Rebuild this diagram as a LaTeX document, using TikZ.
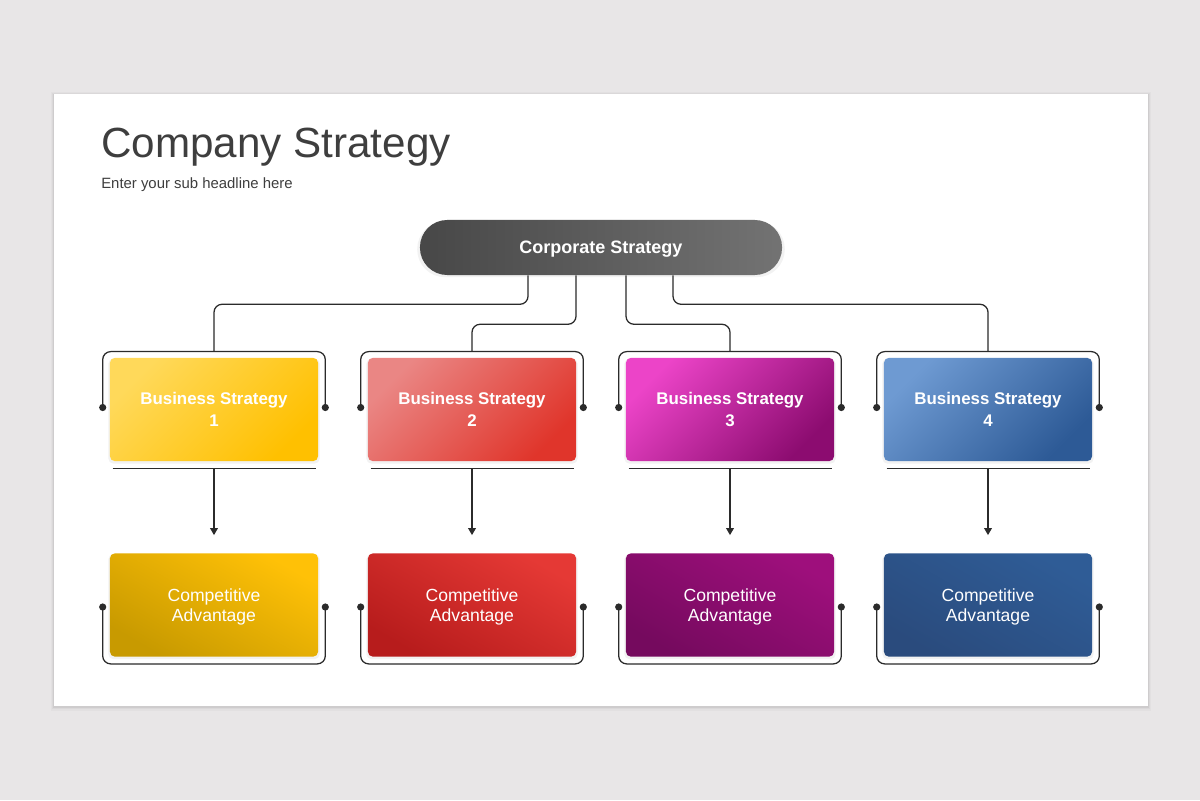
\documentclass[tikz,border=0pt]{standalone}
\usepackage{fontspec}
\setmainfont{Liberation Sans}
\usepackage{tikz}
\usetikzlibrary{arrows.meta,calc,shadows}

\definecolor{pagegray}{HTML}{E8E6E7}
\definecolor{titlegray}{HTML}{3E3E3E}
\definecolor{wiregray}{HTML}{2B2B2B}

\begin{document}
\begin{tikzpicture}[x=0.025cm,y=-0.025cm]
	\tikzstyle{wire}=[draw=wiregray,line width=0.9pt,rounded corners=0.2cm]
	\tikzstyle{dot}=[fill=wiregray]
	\tikzstyle{soft}=[drop shadow={opacity=0.10,shadow xshift=0pt,shadow yshift=-1.2pt,shadow scale=1.015}]
	\tikzstyle{box}=[rectangle,soft,rounded corners=0.12cm,minimum width=5.2cm,minimum height=2.58cm,text=white,align=center,font=\fontsize{12}{15.5}\selectfont]
	\tikzstyle{lowbox}=[box,text depth=0pt,font=\fontsize{12.5}{14.5}\selectfont]
	% page and card
	\fill[pagegray] (0,0) rectangle (1200,800);
	\fill[black,opacity=0.025] (51,92) rectangle (1151,711);
	\fill[black,opacity=0.035] (52,93) rectangle (1150,709);
	\fill[black,opacity=0.05] (53,94) rectangle (1149,707.5);
	\fill[white] (54,94) rectangle (1148,706);
	\node[anchor=base west,inner sep=0pt,text=titlegray,font=\fontsize{30}{36}\selectfont] (title) at (101,158) {Company Strategy};
	\node[anchor=base west,inner sep=0pt,text=titlegray,font=\fontsize{10.6}{13}\selectfont] (sub) at (101,189) {Enter your sub headline here};
	% corporate level
	\node[rectangle,soft,rounded corners=0.68cm,minimum width=9.05cm,minimum height=1.375cm,left color=black!72,right color=black!55,text=white,text depth=0pt,font=\bfseries\fontsize{12.8}{15}\selectfont] (corp) at (601,247.5) {Corporate Strategy};
	% business level
	\node[box,top color={rgb,255:red,255;green,217;blue,90},bottom color={rgb,255:red,255;green,192;blue,0},shading angle=45] (bs1) at (214,409.5) {\bfseries Business Strategy\\\bfseries 1};
	\node[box,top color={rgb,255:red,234;green,134;blue,132},bottom color={rgb,255:red,224;green,53;blue,43},shading angle=45] (bs2) at (472,409.5) {\bfseries Business Strategy\\\bfseries 2};
	\node[box,top color={rgb,255:red,236;green,68;blue,200},bottom color={rgb,255:red,140;green,12;blue,112},shading angle=45] (bs3) at (730,409.5) {\bfseries Business Strategy\\\bfseries 3};
	\node[box,top color={rgb,255:red,110;green,154;blue,210},bottom color={rgb,255:red,45;green,90;blue,150},shading angle=45] (bs4) at (988,409.5) {\bfseries Business Strategy\\\bfseries 4};
	% advantage level
	\node[lowbox,top color={rgb,255:red,255;green,193;blue,7},bottom color={rgb,255:red,200;green,154;blue,0},shading angle=-30] (ca1) at (214,605) {Competitive\\Advantage};
	\node[lowbox,top color={rgb,255:red,229;green,57;blue,53},bottom color={rgb,255:red,183;green,28;blue,28},shading angle=-30] (ca2) at (472,605) {Competitive\\Advantage};
	\node[lowbox,top color={rgb,255:red,158;green,15;blue,124},bottom color={rgb,255:red,117;green,10;blue,94},shading angle=-30] (ca3) at (730,605) {Competitive\\Advantage};
	\node[lowbox,top color={rgb,255:red,47;green,92;blue,150},bottom color={rgb,255:red,42;green,75;blue,125},shading angle=-30] (ca4) at (988,605) {Competitive\\Advantage};
	% corporate to business
	\draw[wire] ($(corp.south)+(-73,0)$) -- ++(0,29) -| ($(bs1.north)+(0,-6)$);
	\draw[wire] ($(corp.south)+(-25,0)$) -- ++(0,49) -| ($(bs2.north)+(0,-6)$);
	\draw[wire] ($(corp.south)+(25,0)$) -- ++(0,49) -| ($(bs3.north)+(0,-6)$);
	\draw[wire] ($(corp.south)+(72,0)$) -- ++(0,29) -| ($(bs4.north)+(0,-6)$);
	% brackets round business boxes
	\draw[wire] ($(bs1.west)+(-7,-2)$) coordinate (bs1l) |- ($(bs1.north)+(0,-6)$) -| ($(bs1.east)+(7,-2)$) coordinate (bs1r);
	\draw[wire] ($(bs2.west)+(-7,-2)$) coordinate (bs2l) |- ($(bs2.north)+(0,-6)$) -| ($(bs2.east)+(7,-2)$) coordinate (bs2r);
	\draw[wire] ($(bs3.west)+(-7,-2)$) coordinate (bs3l) |- ($(bs3.north)+(0,-6)$) -| ($(bs3.east)+(7,-2)$) coordinate (bs3r);
	\draw[wire] ($(bs4.west)+(-7,-2)$) coordinate (bs4l) |- ($(bs4.north)+(0,-6)$) -| ($(bs4.east)+(7,-2)$) coordinate (bs4r);
	% brackets round advantage boxes
	\draw[wire] ($(ca1.west)+(-7,2)$) coordinate (ca1l) |- ($(ca1.south)+(0,7)$) -| ($(ca1.east)+(7,2)$) coordinate (ca1r);
	\draw[wire] ($(ca2.west)+(-7,2)$) coordinate (ca2l) |- ($(ca2.south)+(0,7)$) -| ($(ca2.east)+(7,2)$) coordinate (ca2r);
	\draw[wire] ($(ca3.west)+(-7,2)$) coordinate (ca3l) |- ($(ca3.south)+(0,7)$) -| ($(ca3.east)+(7,2)$) coordinate (ca3r);
	\draw[wire] ($(ca4.west)+(-7,2)$) coordinate (ca4l) |- ($(ca4.south)+(0,7)$) -| ($(ca4.east)+(7,2)$) coordinate (ca4r);
	\fill[dot] (bs1l) circle (0.09cm) (bs1r) circle (0.09cm) (ca1l) circle (0.09cm) (ca1r) circle (0.09cm);
	\fill[dot] (bs2l) circle (0.09cm) (bs2r) circle (0.09cm) (ca2l) circle (0.09cm) (ca2r) circle (0.09cm);
	\fill[dot] (bs3l) circle (0.09cm) (bs3r) circle (0.09cm) (ca3l) circle (0.09cm) (ca3r) circle (0.09cm);
	\fill[dot] (bs4l) circle (0.09cm) (bs4r) circle (0.09cm) (ca4l) circle (0.09cm) (ca4r) circle (0.09cm);
	% underlines and arrows
	\draw[wire] ($(bs1.south west)+(3,7)$) -- ($(bs1.south east)+(-2,7)$);
	\draw[wire] ($(bs2.south west)+(3,7)$) -- ($(bs2.south east)+(-2,7)$);
	\draw[wire] ($(bs3.south west)+(3,7)$) -- ($(bs3.south east)+(-2,7)$);
	\draw[wire] ($(bs4.south west)+(3,7)$) -- ($(bs4.south east)+(-2,7)$);
	\draw[wire,-{Triangle[length=5pt,width=5.5pt]},shorten >=0.45cm] ($(bs1.south)+(0,7)$) -- (ca1.north);
	\draw[wire,-{Triangle[length=5pt,width=5.5pt]},shorten >=0.45cm] ($(bs2.south)+(0,7)$) -- (ca2.north);
	\draw[wire,-{Triangle[length=5pt,width=5.5pt]},shorten >=0.45cm] ($(bs3.south)+(0,7)$) -- (ca3.north);
	\draw[wire,-{Triangle[length=5pt,width=5.5pt]},shorten >=0.45cm] ($(bs4.south)+(0,7)$) -- (ca4.north);
\end{tikzpicture}
\end{document}
